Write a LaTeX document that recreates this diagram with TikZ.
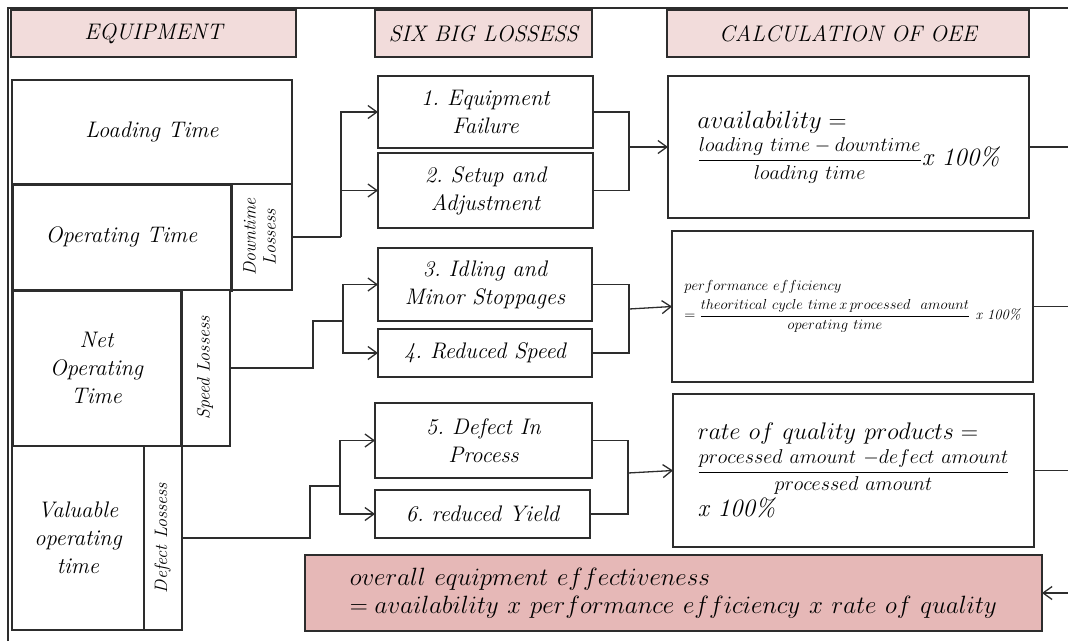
\RequirePackage{fix-cm}
\documentclass[tikz,border=0pt]{standalone}
\usetikzlibrary{arrows.meta}
\definecolor{hdr}{RGB}{242,220,219}
\definecolor{oeefill}{RGB}{230,184,183}
\definecolor{ln}{RGB}{45,45,45}
\frenchspacing
\newcommand\lblfont{\fontsize{22.5}{28}\selectfont\itshape}
\newcommand\rotfont{\fontsize{18}{20}\selectfont\itshape}
\newcommand\vlabel[1]{\rotatebox{90}{\rotfont\begin{tabular}{@{}c@{}}#1\end{tabular}}}
\newcommand\dispfrac[2]{{\displaystyle\frac{#1}{#2}}}
% \rbox[style]{name}{x1}{y1}{x2}{y2}{text}: a box spanning two corners
\newcommand\rbox[7][]{%
  \node[box,#1,minimum width={#5-#3},minimum height={#6-#4}] (#2)
    at ({(#3+#5)/2},{(#4+#6)/2}) {#7};}

\begin{document}
\begin{tikzpicture}[x=1pt,y=-1pt,
  box/.style={draw=ln, line width=1.3pt, inner sep=0pt, outer sep=0pt, fill=white, align=center, font=\lblfont},
  heavy/.style={line width=3pt},
  head/.style={fill=hdr},
  wire/.style={draw=ln, line width=1.3pt},
  arr/.style={wire, -{Straight Barb[length=9pt,width=13pt]}}
]
\useasboundingbox (0,0) rectangle (1068,641);

% outer frame
\draw[wire, line width=1.5pt] (8,641) -- (8,8) -- (1068,8);

% column headers
\rbox[head]{hEquip}{11}{10}{296}{57}{EQUIPMENT}
\rbox[head]{hLoss}{375}{10}{592}{57}{SIX BIG LOSSESS}
\rbox[head]{hCalc}{667}{10}{1029}{57}{CALCULATION OF OEE}

% equipment time breakdown
\rbox{Load}{12}{80}{292}{184}{Loading Time}
\rbox{Down}{231}{184}{292}{290}{\vlabel{Downtime\\Lossess}}
\rbox[heavy]{Oper}{12}{184}{231}{290}{Operating Time}
\rbox{Speed}{181}{290}{230}{446}{\vlabel{Speed Lossess}}
\rbox[heavy]{NetOp}{12}{290}{181}{446}{Net\\Operating\\Time}
\rbox{Valu}{12}{446}{144}{630}{Valuable\\operating\\time}
\rbox{Def}{144}{446}{182}{630}{\vlabel{Defect Lossess}}

% six big losses
\rbox{L1}{378}{76}{593}{148}{1. Equipment\\Failure}
\rbox{L2}{378}{153}{593}{228}{2. Setup and\\Adjustment}
\rbox{L3}{378}{248}{592}{321}{3. Idling and\\Minor Stoppages}
\rbox{L4}{378}{329}{592}{377}{4. Reduced Speed}
\rbox{L5}{375}{403}{592}{478}{5. Defect In\\Process}
\rbox{L6}{375}{490}{590}{538}{6. reduced Yield}

% OEE formulas
\rbox[align=left]{F1}{668}{76}{1029}{218}{%
  {\fontsize{25}{28}\selectfont $availability =$}\\[4pt]
  {\fontsize{20}{24}\selectfont $\dispfrac{loading\ time - downtime}{loading\ time}$}{\fontsize{25}{28}\selectfont\itshape x 100\%}}
\rbox[align=left]{F2}{672}{231}{1033}{382}{%
  {\fontsize{14.5}{16}\selectfont $performance\ efficiency$}\\[1pt]
  {\fontsize{14.5}{18}\selectfont $= \dispfrac{theoritical\ cycle\ time\, x\, processed\ \ amount}{operating\ time}$\ \textit{x} 100\%}}
\rbox[align=left]{F3}{673}{394}{1034}{547}{%
  {\fontsize{24}{26}\selectfont $rate\ of\ quality\ products =$}\\[4pt]
  {\fontsize{20}{24}\selectfont $\dispfrac{processed\ amount\ {-}defect\ amount}{processed\ amount}$}\\[2pt]
  {\fontsize{25}{28}\selectfont\itshape x 100\%}}
\rbox[fill=oeefill, align=left]{OEE}{305}{555}{1042}{631}{%
  {\fontsize{25}{29}\selectfont $overall\ equipment\ effectiveness$}\\
  {\fontsize{25}{29}\selectfont $= availability\ x\ performance\ efficiency\ x\ rate\ of\ quality$}}

% junction points
\coordinate (j1) at (341,237);
\coordinate (k1) at (629,147);
\coordinate (s1) at (313,321);
\coordinate (j2) at (343,321);
\coordinate (k2) at (629,309);
\coordinate (s2) at (310,486);
\coordinate (j3) at (340,486);
\coordinate (k3) at (628,473);
\coordinate (rim) at (1068,0);

% downtime losses
\draw[wire] (Down.east) -- (j1);
\draw[arr] (j1) |- (L1.west);
\draw[arr] (j1) |- (L2.west);
\draw[wire] (L1.east) -| (k1) |- (L2.east);
\draw[arr] (k1) -- (F1.west);

% speed losses
\draw[wire] (Speed.east) -| (s1) -- (j2);
\draw[arr] (j2) |- (L3.west);
\draw[arr] (j2) |- (L4.west);
\draw[wire] (L3.east) -| (k2) |- (L4.east);
\draw[arr] (k2) -- (F2.west);

% defect losses
\draw[wire] (Def.east) -| (s2) -- (j3);
\draw[arr] (j3) |- (L5.west);
\draw[arr] (j3) |- (L6.west);
\draw[wire] (L5.east) -| (k3) |- (L6.east);
\draw[arr] (k3) -- (F3.west);

% results feeding the overall figure
\draw[wire] (F1.east) -- (F1.east -| rim);
\draw[wire] (F2.east) -- (F2.east -| rim);
\draw[wire] (F3.east) -- (F3.east -| rim);
\draw[arr] (OEE.east -| rim) -- (OEE.east);
\end{tikzpicture}
\end{document}
